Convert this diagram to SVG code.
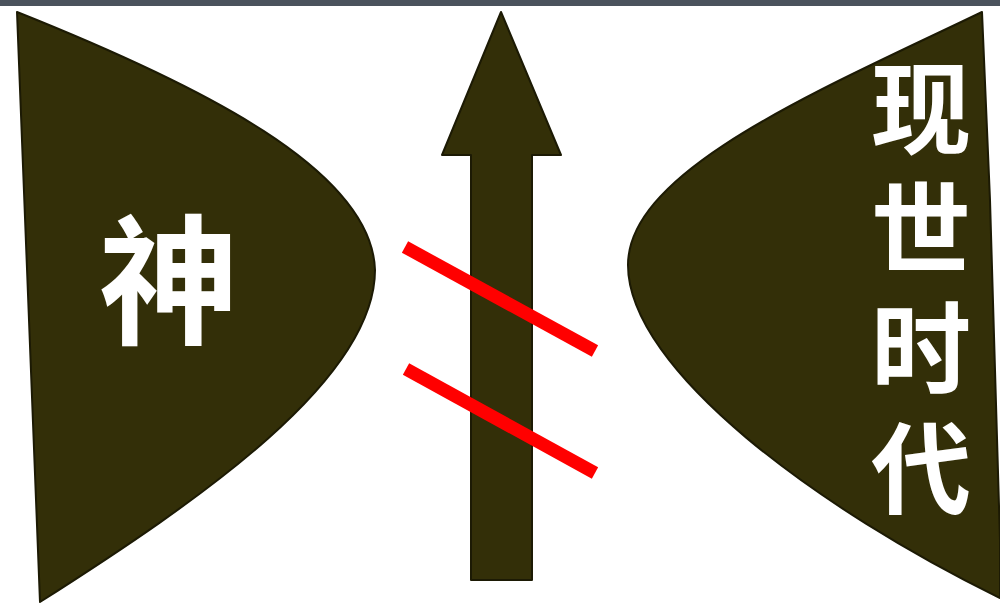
<svg xmlns="http://www.w3.org/2000/svg" width="1000" height="606" viewBox="0 0 1000 606">
<style>
.shape{fill:#332f08;stroke:#1c1a04;stroke-width:2;stroke-linejoin:round}
.lbl{font-family:"Noto Sans CJK SC","Noto Sans CJK JP",sans-serif;font-weight:700;fill:#ffffff}
.bar{stroke:#ff0000;stroke-width:13;stroke-linecap:butt}
</style>
<rect x="0" y="0" width="1000" height="606" fill="#ffffff"/>
<rect x="0" y="0" width="1000" height="6" fill="#4b535d"/>
<g id="node-god">
<path class="shape" d="M17,12 C200,85 372,170 375,270 C375,380 200,500 40,602 Z"/>
<text class="lbl" x="169" y="333" font-size="140" text-anchor="middle">神</text>
</g>
<g id="node-modern">
<path class="shape" d="M982,12 L990,200 L1000,540 L1000,598 C820,510 628,370 628,265 C628,170 820,90 982,12 Z"/>
<text class="lbl" x="921" y="58" font-size="100" writing-mode="vertical-rl" letter-spacing="20">现世时代</text>
</g>
<g id="connectors">
<polygon class="shape" points="501,12 561,155 532,155 532,580 471,580 471,155 442,155"/>
<line class="bar" x1="405" y1="247" x2="595" y2="351"/>
<line class="bar" x1="406" y1="369" x2="595" y2="473"/>
</g>
</svg>
